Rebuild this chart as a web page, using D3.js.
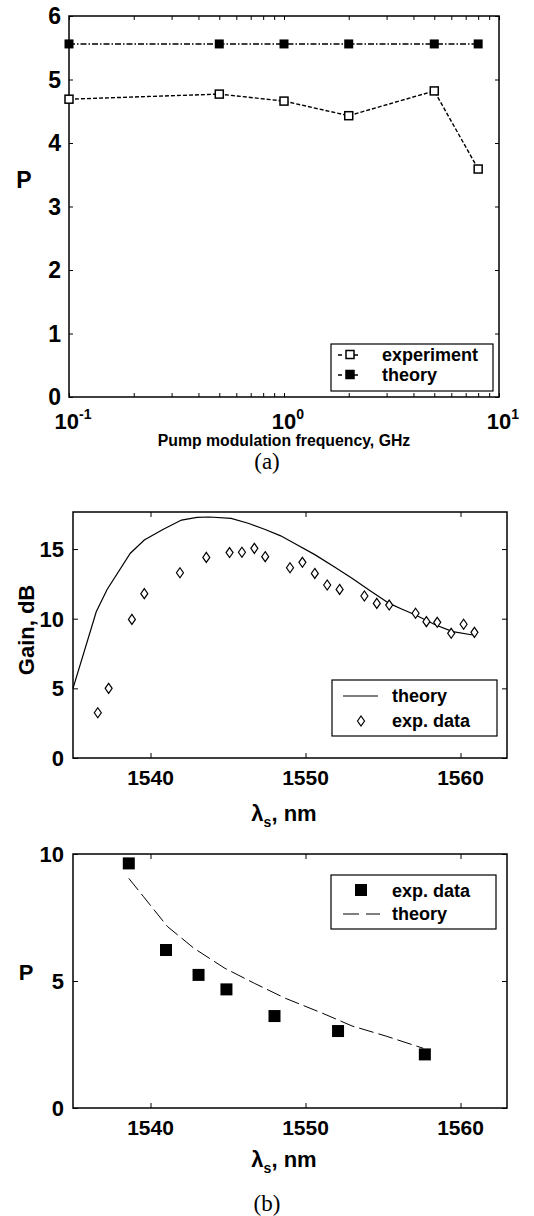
<!DOCTYPE html>
<html><head><meta charset="utf-8">
<script src="https://cdn.jsdelivr.net/npm/d3@7"></script>
<style>
body{margin:0;background:#fff;}
svg text{font-family:"Liberation Sans",Arial,sans-serif;font-weight:bold;fill:#000;}
</style></head>
<body><svg id="c" width="534" height="1216"></svg>
<script>
// ---- Panel (a) data ----
const freqGHz = [0.1, 0.5, 1, 2, 5, 8];
const experimentP = [4.69, 4.77, 4.66, 4.43, 4.82, 3.59];
const theoryP = [5.56, 5.56, 5.56, 5.56, 5.56, 5.56];
const aYTicks = [0, 1, 2, 3, 4, 5, 6];

// ---- Panel (b, top) gain data ----
const gainTheoryLambda = [1535.0, 1536.5, 1537.2, 1538.7, 1539.6, 1540.8, 1542.0, 1543.0, 1543.8, 1545.2, 1546.3, 1547.4, 1548.4, 1549.3, 1550.6, 1551.9, 1553.0, 1554.1, 1555.4, 1556.2, 1557.1, 1558.4, 1559.5, 1560.8];
const gainTheory = [5.0, 10.5, 12.1, 14.7, 15.65, 16.4, 17.08, 17.28, 17.3, 17.2, 16.85, 16.4, 15.95, 15.4, 14.6, 13.7, 12.9, 12.06, 11.1, 10.7, 10.27, 9.55, 9.07, 8.83];
const gainExpLambda = [1536.6, 1537.3, 1538.8, 1539.6, 1541.9, 1543.6, 1545.1, 1545.9, 1546.7, 1547.4, 1549.0, 1549.8, 1550.6, 1551.4, 1552.2, 1553.8, 1554.6, 1555.4, 1557.1, 1557.8, 1558.5, 1559.4, 1560.2, 1560.9];
const gainExp = [3.25, 5.0, 9.95, 11.8, 13.3, 14.4, 14.75, 14.77, 15.05, 14.45, 13.66, 14.05, 13.25, 12.42, 12.1, 11.63, 11.1, 10.98, 10.39, 9.79, 9.74, 8.95, 9.6, 9.02];
const gainYTicks = [0, 5, 10, 15];

// ---- Panel (b, bottom) P data ----
const pExpLambda = [1538.6, 1541.0, 1543.1, 1544.9, 1548.0, 1552.1, 1557.7];
const pExp = [9.63, 6.22, 5.24, 4.67, 3.62, 3.03, 2.11];
const pTheoryLambda = [1538.6, 1539.55, 1541.1, 1542.8, 1544.8, 1546.7, 1548.7, 1551.1, 1553.0, 1555.2, 1557.6];
const pTheory = [9.04, 8.32, 7.14, 6.29, 5.5, 4.91, 4.32, 3.73, 3.23, 2.83, 2.35];
const pYTicks = [0, 5, 10];
const lambdaTicks = [1540, 1550, 1560];

const svg = d3.select("#c");

function frame(g, x, y, xTicks, yTicks, tickLen){
  const [x0, x1] = x.range(), [y0, y1] = y.range();
  g.append("rect").attr("x", x0).attr("y", y1).attr("width", x1 - x0).attr("height", y0 - y1)
    .attr("fill", "none").attr("stroke", "#000").attr("stroke-width", 1.5);
  const mk = (axis, tr) => {
    const a = g.append("g").attr("transform", tr).call(axis);
    a.select(".domain").remove();
    a.selectAll("text").remove();
    a.selectAll("line").attr("stroke", "#000").attr("stroke-width", 1);
  };
  mk(d3.axisBottom(x).tickValues(xTicks).tickSize(-tickLen), `translate(0,${y0})`);
  mk(d3.axisTop(x).tickValues(xTicks).tickSize(-tickLen), `translate(0,${y1})`);
  mk(d3.axisLeft(y).tickValues(yTicks).tickSize(-tickLen), `translate(${x0},0)`);
  mk(d3.axisRight(y).tickValues(yTicks).tickSize(-tickLen), `translate(${x1},0)`);
}

// ================= Panel (a) =================
{
  const x = d3.scaleLog().domain([0.1, 10]).range([69, 499]);
  const y = d3.scaleLinear().domain([0, 6]).range([397, 16]);
  const g = svg.append("g");
  const minor = [];
  [0.1, 1].forEach(d => { for (let k = 1; k < 10; k++) minor.push(d * k); });
  minor.push(10);
  frame(g, x, y, minor, aYTicks, 4);
  g.selectAll(".yl").data(aYTicks).join("text")
    .attr("x", 61).attr("y", d => y(d) + 8).attr("text-anchor", "end")
    .attr("font-size", 23).text(d => d);
  [0.1, 1, 10].forEach(d => {
    const t = g.append("text").attr("x", x(d) + 4).attr("y", 429).attr("text-anchor", "middle").attr("font-size", 22);
    t.append("tspan").text("10");
    t.append("tspan").attr("dy", -10).attr("font-size", 14).text(Math.round(Math.log10(d)));
  });
  g.append("text").attr("x", 284).attr("y", 446).attr("text-anchor", "middle").attr("font-size", 15.8)
    .text("Pump modulation frequency, GHz");
  g.append("text").attr("x", 24).attr("y", 188).attr("text-anchor", "middle").attr("font-size", 23).text("P");

  const line = d3.line().x((d, i) => x(freqGHz[i])).y(d => y(d));
  g.append("path").attr("d", line(theoryP)).attr("fill", "none").attr("stroke", "#000")
    .attr("stroke-width", 1.4).attr("stroke-dasharray", "6,2,1.5,2");
  g.append("path").attr("d", line(experimentP)).attr("fill", "none").attr("stroke", "#000")
    .attr("stroke-width", 1.4).attr("stroke-dasharray", "4,2");
  const s = 9;
  g.selectAll(".th").data(theoryP).join("rect")
    .attr("x", (d, i) => x(freqGHz[i]) - s / 2).attr("y", d => y(d) - s / 2)
    .attr("width", s).attr("height", s).attr("fill", "#000");
  g.selectAll(".ex").data(experimentP).join("rect")
    .attr("x", (d, i) => x(freqGHz[i]) - s / 2 + 0.5).attr("y", d => y(d) - s / 2 + 0.5)
    .attr("width", s - 1).attr("height", s - 1).attr("fill", "#fff").attr("stroke", "#000").attr("stroke-width", 1.5);

  const lg = g.append("g");
  lg.append("rect").attr("x", 331).attr("y", 344).attr("width", 162).attr("height", 47)
    .attr("fill", "#fff").attr("stroke", "#000").attr("stroke-width", 1.2);
  [["experiment", false, 361], ["theory", true, 381]].forEach(([lab, fill, yy]) => {
    lg.append("line").attr("x1", 338).attr("x2", 362).attr("y1", yy - 6).attr("y2", yy - 6)
      .attr("stroke", "#000").attr("stroke-width", 1.4).attr("stroke-dasharray", "4,4");
    lg.append("rect").attr("x", 346).attr("y", yy - 10.5).attr("width", 8).attr("height", 8)
      .attr("fill", fill ? "#000" : "#fff").attr("stroke", "#000").attr("stroke-width", 1.5);
    lg.append("text").attr("x", 382).attr("y", yy).attr("font-size", 18).text(lab);
  });
  svg.append("text").attr("x", 267).attr("y", 469).attr("text-anchor", "middle")
    .style("font-family", "'Liberation Serif','Times New Roman',serif").style("font-weight", "normal")
    .attr("font-size", 23).text("(a)");
}

function lambdaLabel(g, cx, yy){
  const t = g.append("text").attr("x", cx).attr("y", yy).attr("text-anchor", "middle").attr("font-size", 22);
  t.append("tspan").text("λ");
  t.append("tspan").attr("dy", 6).attr("font-size", 14).text("s");
  t.append("tspan").attr("dy", -6).text(", nm");
}

// ================= Panel (b) gain =================
{
  const x = d3.scaleLinear().domain([1535, 1563]).range([73, 507]);
  const y = d3.scaleLinear().domain([0, 17.66]).range([758, 512]);
  const g = svg.append("g");
  frame(g, x, y, lambdaTicks, gainYTicks, 5);
  g.selectAll(".yl").data(gainYTicks).join("text")
    .attr("x", 64).attr("y", d => y(d) + 8).attr("text-anchor", "end")
    .attr("font-size", 22).text(d => d);
  g.selectAll(".xl").data(lambdaTicks).join("text")
    .attr("x", d => x(d)).attr("y", 785).attr("text-anchor", "middle")
    .attr("font-size", 21).text(d => d);
  lambdaLabel(g, 284, 821);
  g.append("text").attr("transform", "translate(34,630) rotate(-90)").attr("text-anchor", "middle")
    .attr("font-size", 22).text("Gain, dB");

  const line = d3.line().x((d, i) => x(gainTheoryLambda[i])).y(d => y(d));
  g.append("path").attr("d", line(gainTheory)).attr("fill", "none").attr("stroke", "#000").attr("stroke-width", 1.2);
  const dia = (cx, cy) => `M${cx},${cy - 5}L${cx + 3.5},${cy}L${cx},${cy + 5}L${cx - 3.5},${cy}Z`;
  g.selectAll(".dm").data(gainExp).join("path")
    .attr("d", (d, i) => dia(x(gainExpLambda[i]), y(d)))
    .attr("fill", "#fff").attr("stroke", "#000").attr("stroke-width", 1.2);

  const lg = g.append("g");
  lg.append("rect").attr("x", 332).attr("y", 680).attr("width", 165).attr("height", 56)
    .attr("fill", "#fff").attr("stroke", "#000").attr("stroke-width", 1.2);
  lg.append("line").attr("x1", 343).attr("x2", 378).attr("y1", 696).attr("y2", 696).attr("stroke", "#000").attr("stroke-width", 1.2);
  lg.append("text").attr("x", 392).attr("y", 702).attr("font-size", 18).text("theory");
  lg.append("path").attr("d", dia(361, 721)).attr("fill", "#fff").attr("stroke", "#000").attr("stroke-width", 1.2);
  lg.append("text").attr("x", 392).attr("y", 727).attr("font-size", 18).text("exp. data");
}

// ================= Panel (b) P =================
{
  const x = d3.scaleLinear().domain([1535, 1563]).range([73, 507]);
  const y = d3.scaleLinear().domain([0, 10]).range([1108, 854]);
  const g = svg.append("g");
  frame(g, x, y, lambdaTicks, pYTicks, 5);
  g.selectAll(".yl").data(pYTicks).join("text")
    .attr("x", 64).attr("y", d => y(d) + 8).attr("text-anchor", "end")
    .attr("font-size", 22).text(d => d);
  g.selectAll(".xl").data(lambdaTicks).join("text")
    .attr("x", d => x(d)).attr("y", 1135).attr("text-anchor", "middle")
    .attr("font-size", 21).text(d => d);
  lambdaLabel(g, 284, 1167);
  g.append("text").attr("x", 26).attr("y", 980).attr("text-anchor", "middle").attr("font-size", 22).text("P");

  const line = d3.line().x((d, i) => x(pTheoryLambda[i])).y(d => y(d));
  g.append("path").attr("d", line(pTheory)).attr("fill", "none").attr("stroke", "#000")
    .attr("stroke-width", 1).attr("stroke-dasharray", "15,5");
  const s = 12;
  g.selectAll(".sq").data(pExp).join("rect")
    .attr("x", (d, i) => x(pExpLambda[i]) - s / 2).attr("y", d => y(d) - s / 2)
    .attr("width", s).attr("height", s).attr("fill", "#000");

  const lg = g.append("g");
  lg.append("rect").attr("x", 331).attr("y", 875).attr("width", 165).attr("height", 54)
    .attr("fill", "#fff").attr("stroke", "#000").attr("stroke-width", 1.2);
  lg.append("rect").attr("x", 355).attr("y", 884).attr("width", 12).attr("height", 12).attr("fill", "#000");
  lg.append("text").attr("x", 392).attr("y", 897).attr("font-size", 18).text("exp. data");
  lg.append("line").attr("x1", 343).attr("x2", 380).attr("y1", 914).attr("y2", 914).attr("stroke", "#000")
    .attr("stroke-width", 1.2).attr("stroke-dasharray", "16,7");
  lg.append("text").attr("x", 392).attr("y", 920).attr("font-size", 18).text("theory");
  svg.append("text").attr("x", 267).attr("y", 1211).attr("text-anchor", "middle")
    .style("font-family", "'Liberation Serif','Times New Roman',serif").style("font-weight", "normal")
    .attr("font-size", 23).text("(b)");
}
</script></body></html>
